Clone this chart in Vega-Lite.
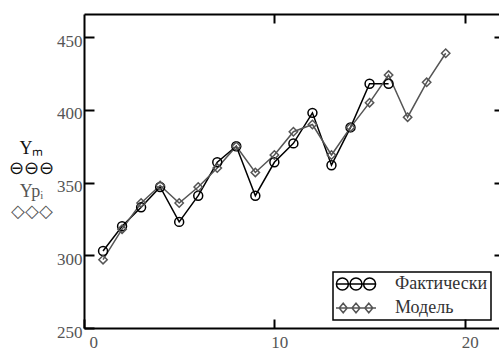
{
  "$schema": "https://vega.github.io/schema/vega-lite/v6.json",
  "width": 415,
  "height": 314,
  "autosize": "none",
  "padding": {"left": 84, "top": 14, "right": 0, "bottom": 23},
  "background": "white",
  "config": {
    "view": {"stroke": null},
    "axis": {
      "grid": false,
      "domainColor": "black",
      "domainWidth": 2,
      "tickColor": "black",
      "tickWidth": 2,
      "labelFont": "Times New Roman, Liberation Serif, serif",
      "labelFontSize": 17,
      "labelColor": "#555",
      "titleFont": "Times New Roman, Liberation Serif, serif",
      "titleFontWeight": "normal",
      "titleFontSize": 18
    },
    "legend": {
      "labelFont": "Times New Roman, Liberation Serif, serif",
      "labelFontSize": 18,
      "labelColor": "#333",
      "labelLimit": 300
    }
  },
  "data": {
    "values": [
      {"t": 1, "series": "Фактически", "v": 303},
      {"t": 2, "series": "Фактически", "v": 320},
      {"t": 3, "series": "Фактически", "v": 333},
      {"t": 4, "series": "Фактически", "v": 347},
      {"t": 5, "series": "Фактически", "v": 323},
      {"t": 6, "series": "Фактически", "v": 341},
      {"t": 7, "series": "Фактически", "v": 364},
      {"t": 8, "series": "Фактически", "v": 375},
      {"t": 9, "series": "Фактически", "v": 341},
      {"t": 10, "series": "Фактически", "v": 364},
      {"t": 11, "series": "Фактически", "v": 377},
      {"t": 12, "series": "Фактически", "v": 398},
      {"t": 13, "series": "Фактически", "v": 362},
      {"t": 14, "series": "Фактически", "v": 388},
      {"t": 15, "series": "Фактически", "v": 418},
      {"t": 16, "series": "Фактически", "v": 418},
      {"t": 1, "series": "Модель", "v": 297},
      {"t": 2, "series": "Модель", "v": 318},
      {"t": 3, "series": "Модель", "v": 336},
      {"t": 4, "series": "Модель", "v": 348},
      {"t": 5, "series": "Модель", "v": 336},
      {"t": 6, "series": "Модель", "v": 347},
      {"t": 7, "series": "Модель", "v": 360},
      {"t": 8, "series": "Модель", "v": 375},
      {"t": 9, "series": "Модель", "v": 357},
      {"t": 10, "series": "Модель", "v": 369},
      {"t": 11, "series": "Модель", "v": 385},
      {"t": 12, "series": "Модель", "v": 390},
      {"t": 13, "series": "Модель", "v": 369},
      {"t": 14, "series": "Модель", "v": 388},
      {"t": 15, "series": "Модель", "v": 405},
      {"t": 16, "series": "Модель", "v": 424},
      {"t": 17, "series": "Модель", "v": 395},
      {"t": 18, "series": "Модель", "v": 419},
      {"t": 19, "series": "Модель", "v": 439}
    ]
  },
  "layer": [
    {
      "mark": {"type": "line", "strokeWidth": 1.5},
      "encoding": {
        "x": {
          "field": "t", "type": "quantitative",
          "scale": {"domain": [0, 21.8], "nice": false, "zero": false},
          "axis": {"orient": "bottom", "values": [0, 10, 20], "tickSize": -9, "labelPadding": 15, "labelOffset": 5, "title": null}
        },
        "y": {
          "field": "v", "type": "quantitative",
          "scale": {"domain": [250, 466], "nice": false, "zero": false},
          "axis": {
            "orient": "left", "values": [250, 300, 350, 400, 450], "tickSize": -10, "labelPadding": 12, "labelOffset": 4,
            "title": ["Yₘ", "⊖⊖⊖"], "titleAngle": 0, "titleAlign": "center", "titleBaseline": "alphabetic",
            "titleX": -53, "titleY": 139, "titleLineHeight": 20, "titleColor": "#111"
          }
        },
        "color": {
          "field": "series", "type": "nominal",
          "scale": {"domain": ["Фактически", "Модель"], "range": ["#000000", "#555555"]},
          "legend": {
            "title": null, "orient": "bottom-right", "offset": 8, "padding": 3, "rowPadding": 5,
            "labelFont": "Times New Roman, Liberation Serif, serif", "labelFontSize": 18, "labelColor": "#333",
            "strokeColor": "black", "symbolSize": 256, "symbolOffset": 11, "labelOffset": 30, "symbolStrokeWidth": 1.5,
            "encode": {
              "legend": {"update": {"strokeWidth": {"value": 1.5}}},
              "labels": {"update": {"font": {"value": "Times New Roman, Liberation Serif, serif"}, "fontSize": {"value": 18}, "fill": {"value": "#333333"}}},
              "symbols": {"update": {
                "shape": {"signal": "datum.value == 'Модель' ? 'M-2.5,0L2.5,0M-2.1,0L-1.6,-0.6L-1.1,0L-1.6,0.6ZM-0.5,0L0,-0.6L0.5,0L0,0.6ZM1.1,0L1.6,-0.6L2.1,0L1.6,0.6Z' : 'M-2.5,0L2.5,0M-0.95,0A0.75,0.75,0,1,1,-2.45,0A0.75,0.75,0,1,1,-0.95,0M0.75,0A0.75,0.75,0,1,1,-0.75,0A0.75,0.75,0,1,1,0.75,0M2.45,0A0.75,0.75,0,1,1,0.95,0A0.75,0.75,0,1,1,2.45,0'"},
                "fill": {"value": "transparent"},
                "size": {"value": 256},
                "strokeWidth": {"value": 1.5}
              }}
            }
          }
        }
      }
    },
    {
      "transform": [{"filter": "datum.series == 'Фактически'"}],
      "mark": {"type": "point", "shape": "circle", "filled": false, "size": 80, "strokeWidth": 1.5, "opacity": 1},
      "encoding": {
        "x": {
          "field": "t", "type": "quantitative",
          "axis": {"orient": "top", "values": [10, 20], "tickSize": -9, "labels": false, "title": null}
        },
        "y": {
          "field": "v", "type": "quantitative",
          "axis": {
            "orient": "right", "values": [300, 350, 400, 450], "tickSize": -5, "labels": false, "domain": false,
            "title": ["Ypᵢ", "◇◇◇"], "titleAngle": 0, "titleAlign": "center", "titleBaseline": "alphabetic",
            "titleX": -468, "titleY": 182, "titleLineHeight": 20, "titleColor": "#555"
          }
        },
        "color": {
          "field": "series", "type": "nominal",
          "legend": {
            "title": null, "orient": "bottom-right", "offset": 8, "padding": 3, "rowPadding": 5,
            "labelFont": "Times New Roman, Liberation Serif, serif", "labelFontSize": 18, "labelColor": "#333",
            "strokeColor": "black", "symbolSize": 256, "symbolOffset": 11, "labelOffset": 30, "symbolStrokeWidth": 1.5,
            "encode": {
              "legend": {"update": {"strokeWidth": {"value": 1.5}}},
              "labels": {"update": {"font": {"value": "Times New Roman, Liberation Serif, serif"}, "fontSize": {"value": 18}, "fill": {"value": "#333333"}}},
              "symbols": {"update": {
                "shape": {"signal": "datum.value == 'Модель' ? 'M-2.5,0L2.5,0M-2.1,0L-1.6,-0.6L-1.1,0L-1.6,0.6ZM-0.5,0L0,-0.6L0.5,0L0,0.6ZM1.1,0L1.6,-0.6L2.1,0L1.6,0.6Z' : 'M-2.5,0L2.5,0M-0.95,0A0.75,0.75,0,1,1,-2.45,0A0.75,0.75,0,1,1,-0.95,0M0.75,0A0.75,0.75,0,1,1,-0.75,0A0.75,0.75,0,1,1,0.75,0M2.45,0A0.75,0.75,0,1,1,0.95,0A0.75,0.75,0,1,1,2.45,0'"},
                "fill": {"value": "transparent"},
                "size": {"value": 256},
                "strokeWidth": {"value": 1.5}
              }}
            }
          }
        }
      }
    },
    {
      "transform": [{"filter": "datum.series == 'Модель'"}],
      "mark": {"type": "point", "shape": "diamond", "filled": false, "size": 70, "strokeWidth": 1.5, "opacity": 1},
      "encoding": {
        "x": {"field": "t", "type": "quantitative", "axis": null},
        "y": {"field": "v", "type": "quantitative", "axis": null},
        "color": {
          "field": "series", "type": "nominal",
          "legend": {
            "title": null, "orient": "bottom-right", "offset": 8, "padding": 3, "rowPadding": 5,
            "labelFont": "Times New Roman, Liberation Serif, serif", "labelFontSize": 18, "labelColor": "#333",
            "strokeColor": "black", "symbolSize": 256, "symbolOffset": 11, "labelOffset": 30, "symbolStrokeWidth": 1.5,
            "encode": {
              "legend": {"update": {"strokeWidth": {"value": 1.5}}},
              "labels": {"update": {"font": {"value": "Times New Roman, Liberation Serif, serif"}, "fontSize": {"value": 18}, "fill": {"value": "#333333"}}},
              "symbols": {"update": {
                "shape": {"signal": "datum.value == 'Модель' ? 'M-2.5,0L2.5,0M-2.1,0L-1.6,-0.6L-1.1,0L-1.6,0.6ZM-0.5,0L0,-0.6L0.5,0L0,0.6ZM1.1,0L1.6,-0.6L2.1,0L1.6,0.6Z' : 'M-2.5,0L2.5,0M-0.95,0A0.75,0.75,0,1,1,-2.45,0A0.75,0.75,0,1,1,-0.95,0M0.75,0A0.75,0.75,0,1,1,-0.75,0A0.75,0.75,0,1,1,0.75,0M2.45,0A0.75,0.75,0,1,1,0.95,0A0.75,0.75,0,1,1,2.45,0'"},
                "fill": {"value": "transparent"},
                "size": {"value": 256},
                "strokeWidth": {"value": 1.5}
              }}
            }
          }
        }
      }
    }
  ],
  "resolve": {"axis": {"x": "independent", "y": "independent"}}
}
